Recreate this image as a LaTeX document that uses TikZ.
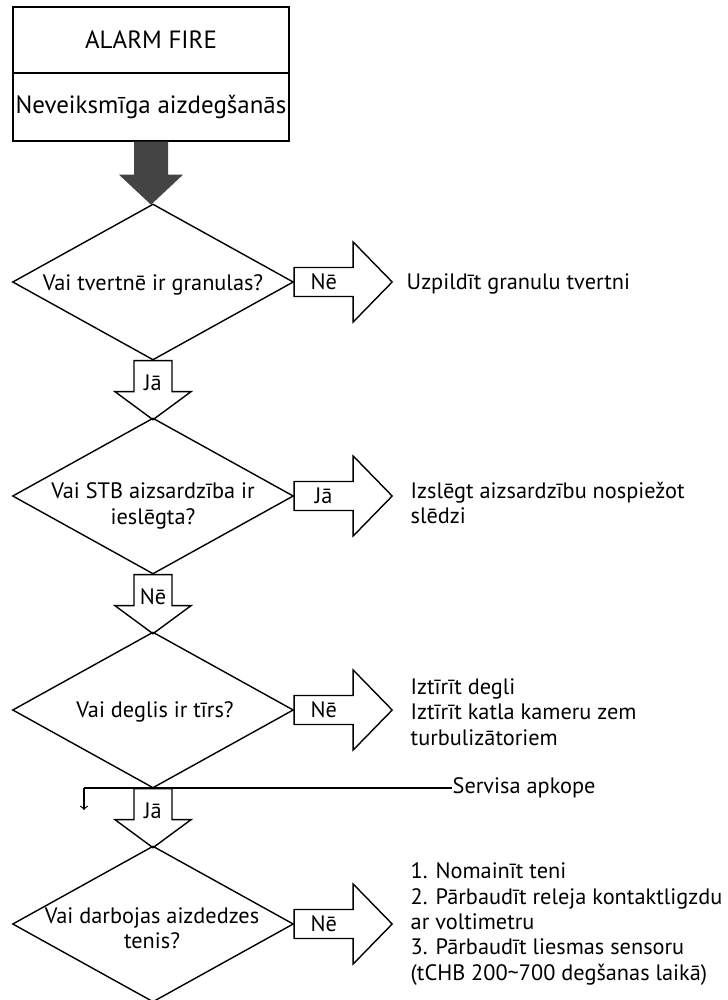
\documentclass[tikz,border=0pt]{standalone}
\usepackage{amsmath}
\usepackage{fontspec}
\setmainfont{PT Sans}
\usepackage{tikz}
\usepackage{color}
\usetikzlibrary{shapes.geometric}
\definecolor{darkarrow}{RGB}{68,68,68}
\tikzset{
  titlebox/.style={draw, minimum width=5.52cm, inner sep=0pt, font=\fontsize{14.2}{17}\selectfont},
  decision/.style={draw, diamond, inner sep=0pt, minimum width=5.62cm, minimum height=3.12cm},
  question/.style={align=center, inner sep=0pt},
  answer/.style={align=left, anchor=west, inner sep=0pt},
  thinline/.style={line width=0.7pt},
  pics/rblock/.style={code={
    \draw[fill=white] (0,-14.5) -- (59,-14.5) -- (59,-40) -- (98,0) -- (59,40) -- (59,14.5) -- (0,14.5) -- cycle;
    \node (-lbl) at (29.5,0) {#1};
  }},
  pics/dblock/.style={code={
    \draw[fill=white] (-19,0) -- (19,0) -- (19,31) -- (38,31) -- (0,59) -- (-38,31) -- (-19,31) -- cycle;
    \node[anchor=base] (-lbl) at (0,30) {#1};
  }},
  pics/bigarrow/.style={code={
    \fill[darkarrow] (-17,0) -- (17,0) -- (17,33) -- (32,33) -- (0,63) -- (-32,33) -- (-17,33) -- cycle;
  }}
}

\begin{document}
\begin{tikzpicture}[x=0.02cm, y=-0.02cm, line width=0.8pt, font=\fontsize{12.7}{14.5}\selectfont]
\useasboundingbox (0,0) rectangle (727,1000);
%% virsraksts
\node[titlebox, minimum height=1.32cm] (b1) at (151,40) {ALARM FIRE};
\node[titlebox, minimum height=1.36cm] (b2) at (151,107) {Neveiksmīga aizdegšanās};
\pic at (b2.south) {bigarrow};

%% 1. jautājums
\node[decision] (d1) at (153,282) {};
\node[question] (q1) at (153,285) {Vai tvertnē ir granulas?};
\pic (r1) at (d1.east) {rblock=Nē};
\node[answer] (t1) at (406,284) {Uzpildīt granulu tvertni};
\pic (j1) at (d1.south) {dblock=Jā};

%% 2. jautājums
\node[decision] (d2) at (153,496) {};
\node[question] (q2) at (153,506) {Vai STB aizsardzība ir\\ieslēgta?};
\pic (r2) at (d2.east) {rblock=Jā};
\node[answer] (t2) at (410,503) {Izslēgt aizsardzību nospiežot\\slēdzi};
\pic (n2) at (d2.south) {dblock=Nē};

%% 3. jautājums
\node[decision] (d3) at (153,710) {};
\node[question] (q3) at (155,712) {Vai deglis ir tīrs?};
\pic (r3) at (d3.east) {rblock=Nē};
\node[answer] (t3) at (410,712) {Iztīrīt degli\\Iztīrīt katla kameru zem\\turbulizātoriem};
%% servisa apkope
\node[answer] (sa) at (452,788) {Servisa apkope};
\coordinate (sv) at (84,788);
\coordinate (sve) at (84,810);
\draw[thinline] (sv) -- (sa.west);
\draw[thinline,->] (sv) -- (sve);
\pic (j3) at (d3.south) {dblock=Jā};

%% 4. jautājums
\node[decision] (d4) at (153,924) {};
\node[question] (q4) at (152,928) {Vai darbojas aizdedzes\\tenis?};
\pic (r4) at (d4.east) {rblock=Nē};
\node[answer] (t4) at (410,924) {1. Nomainīt teni\\2. Pārbaudīt releja kontaktligzdu\\ar voltimetru\\3. Pārbaudīt liesmas sensoru\\(tCHB 200\textasciitilde700 degšanas laikā)};

\end{tikzpicture}
\end{document}
